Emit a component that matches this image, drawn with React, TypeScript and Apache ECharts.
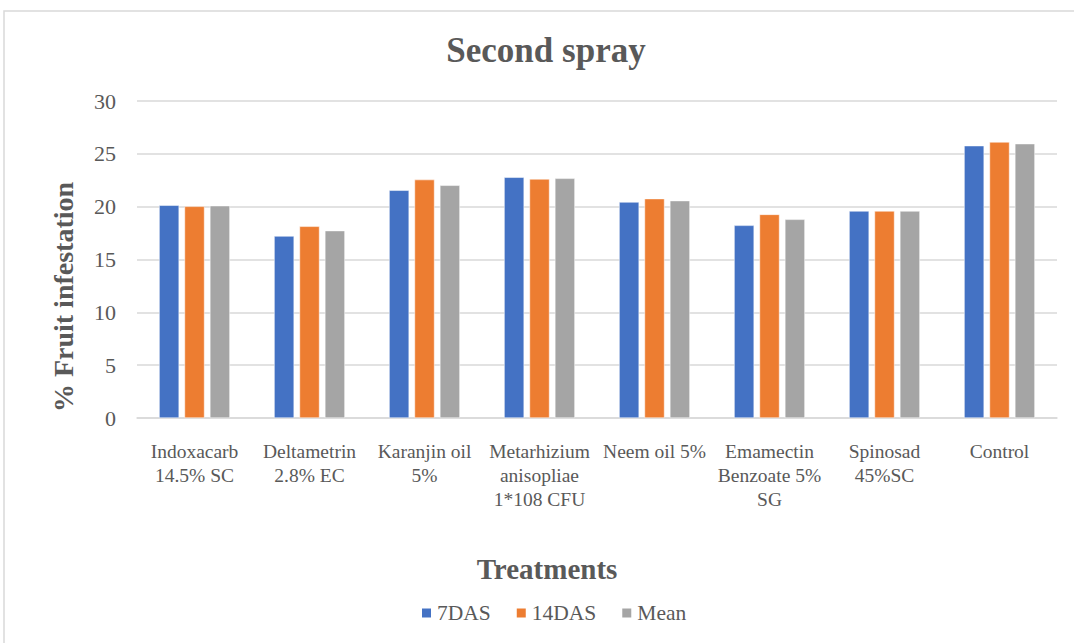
import React, { useEffect, useRef } from "react";
import * as echarts from "echarts";

const categories = [
  "Indoxacarb\n14.5% SC",
  "Deltametrin\n2.8% EC",
  "Karanjin oil\n5%",
  "Metarhizium\nanisopliae\n1*108 CFU",
  "Neem oil 5%",
  "Emamectin\nBenzoate 5%\nSG",
  "Spinosad\n45%SC",
  "Control",
];
const das7 = [20.13, 17.22, 21.55, 22.78, 20.44, 18.23, 19.59, 25.77];
const das14 = [20.03, 18.14, 22.56, 22.62, 20.76, 19.27, 19.59, 26.12];
const mean = [20.09, 17.73, 22.02, 22.68, 20.57, 18.8, 19.59, 25.96];
const yTicks = [0, 5, 10, 15, 20, 25, 30];

const FONT = "'Liberation Serif', 'Times New Roman', serif";
const TXT = "#595959";

export default function App() {
  const ref = useRef<HTMLDivElement>(null);
  useEffect(() => {
    if (!ref.current) return;
    const chart = echarts.init(ref.current, null, { renderer: "svg" });
    const mk = (name: string, data: number[], color: string) => ({
      name,
      type: "bar",
      data,
      barWidth: 20,
      barGap: "27%",
      itemStyle: { color, borderColor: "#ffffff", borderWidth: 0.5 },
    });
    chart.setOption({
      animation: false,
      backgroundColor: "#ffffff",
      textStyle: { fontFamily: FONT },
      graphic: [
        {
          type: "rect",
          shape: { x: 4, y: 11, width: 1090, height: 660 },
          style: { fill: "none", stroke: "#d9d9d9", lineWidth: 1.5 },
          silent: true,
          z: -1,
        },
        {
          type: "text",
          x: 546,
          y: 50,
          style: {
            text: "Second spray",
            fontFamily: FONT,
            fontSize: 35,
            fontWeight: "bold",
            fill: TXT,
            align: "center",
            verticalAlign: "middle",
          },
        },
        {
          type: "text",
          x: 63,
          y: 297,
          rotation: Math.PI / 2,
          style: {
            text: "% Fruit infestation",
            fontFamily: FONT,
            fontSize: 28,
            fontWeight: "bold",
            fill: TXT,
            align: "center",
            verticalAlign: "middle",
          },
        },
        {
          type: "text",
          x: 547,
          y: 569,
          style: {
            text: "Treatments",
            fontFamily: FONT,
            fontSize: 29,
            fontWeight: "bold",
            fill: TXT,
            align: "center",
            verticalAlign: "middle",
          },
        },
      ],
      legend: {
        top: 597,
        left: 415,
        padding: 5,
        itemWidth: 11,
        itemHeight: 11,
        itemGap: 24,
        icon: "rect",
        textStyle: { fontFamily: FONT, fontSize: 21.5, color: TXT },
        data: ["7DAS", "14DAS", "Mean"],
      },
      grid: { left: 137, right: 17, top: 101, bottom: 225, containLabel: false },
      xAxis: {
        type: "category",
        data: categories,
        axisLine: { lineStyle: { color: "#d9d9d9", width: 1.5 } },
        axisTick: { show: false },
        axisLabel: {
          interval: 0,
          margin: 21,
          fontFamily: FONT,
          fontSize: 19.5,
          lineHeight: 24,
          color: TXT,
        },
      },
      yAxis: {
        type: "value",
        min: yTicks[0],
        max: yTicks[yTicks.length - 1],
        interval: 5,
        axisLine: { show: false },
        axisTick: { show: false },
        axisLabel: { margin: 21, fontFamily: FONT, fontSize: 22, color: TXT },
        splitLine: { lineStyle: { color: "#d9d9d9", width: 1.5 } },
      },
      series: [mk("7DAS", das7, "#4472C4"), mk("14DAS", das14, "#ED7D31"), mk("Mean", mean, "#A5A5A5")],
    });
    return () => chart.dispose();
  }, []);
  return (
    <div
      ref={ref}
      style={{ position: "fixed", left: 0, top: 0, width: 1074, height: 643, background: "#fff" }}
    />
  );
}
